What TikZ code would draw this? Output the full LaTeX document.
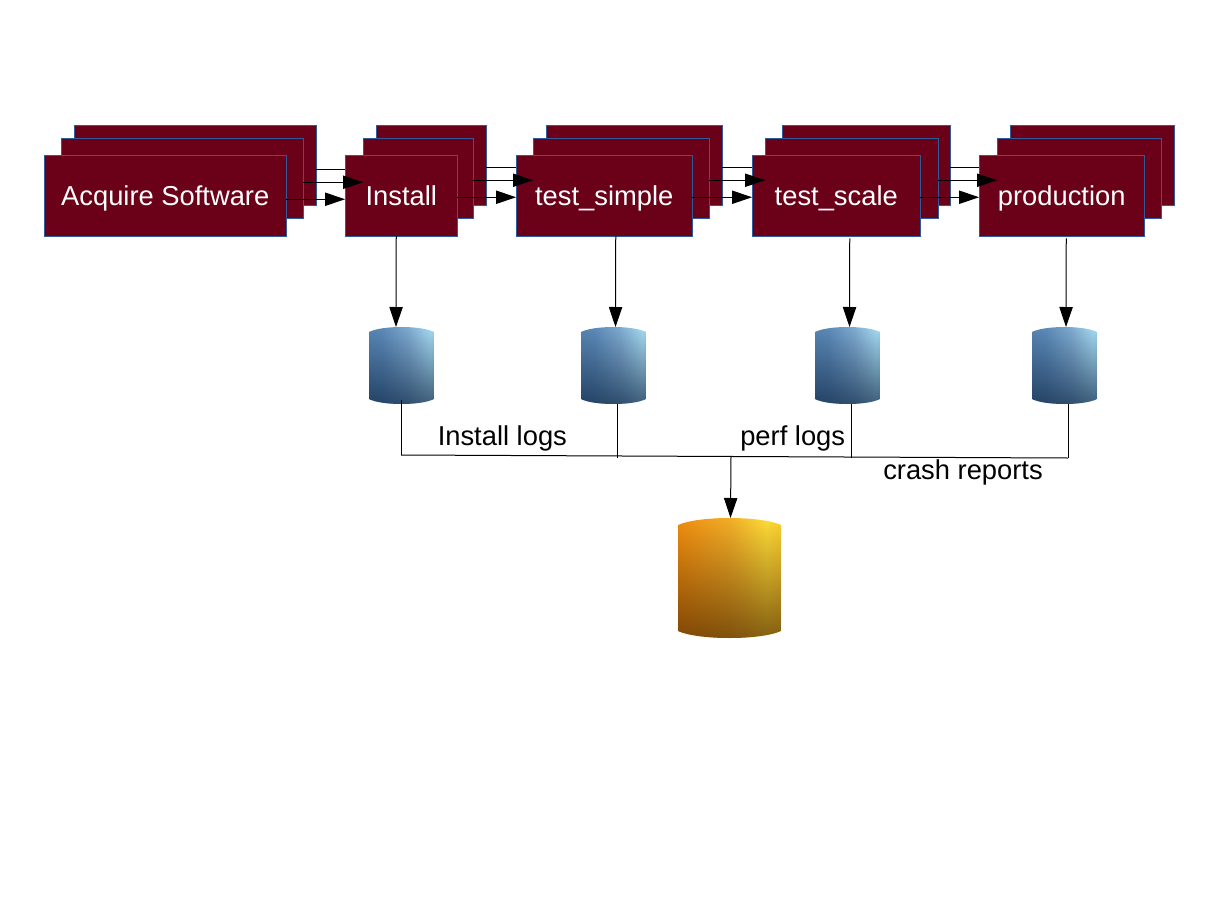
\documentclass[tikz,border=0pt]{standalone}
\usepackage{fontspec}
\setmainfont{Liberation Sans}
\usetikzlibrary{arrows.meta,calc,fadings}
\definecolor{boxfill}{HTML}{6B0019}
\definecolor{boxline}{HTML}{2F5B9B}
\definecolor{ba}{HTML}{4E79A6}
\definecolor{bb}{HTML}{5C8AB8}
\definecolor{bc}{HTML}{7FAAD0}
\definecolor{bd}{HTML}{A6DAF2}
\definecolor{be}{HTML}{8EC4EC}
\definecolor{bf}{HTML}{7CB2EA}
\definecolor{oa}{HTML}{CF8210}
\definecolor{ob}{HTML}{F08E10}
\definecolor{oc}{HTML}{F2AE28}
\definecolor{od}{HTML}{FFDC38}
\definecolor{oe}{HTML}{F8C028}
\definecolor{of}{HTML}{FBA81A}
\definecolor{bluecylshade}{HTML}{0C2340}
\definecolor{orangecylshade}{HTML}{4A2500}
\pgfdeclarehorizontalshading{bluecyl}{100bp}{color(0bp)=(ba);color(35bp)=(bb);color(55bp)=(bc);color(72bp)=(bd);color(85bp)=(be);color(100bp)=(bf)}
\pgfdeclarehorizontalshading{orangecyl}{100bp}{color(0bp)=(oa);color(25bp)=(ob);color(50bp)=(oc);color(68bp)=(od);color(85bp)=(oe);color(100bp)=(of)}
\tikzset{
  px/.style={x=0.75pt,y=-0.75pt},
  stackbox/.style={draw=boxline,fill=boxfill,line width=0.7pt,inner sep=0pt,text=white,text height=18.5pt,text depth=3.5pt,font=\fontsize{20.5pt}{24pt}\selectfont},
  conn/.style={black,line width=0.75pt},
  arr/.style={conn,-{Triangle[length=15pt,width=10pt]}},
  caption label/.style={font=\fontsize{20.5pt}{24pt}\selectfont,text=black,anchor=base west,inner sep=0pt},
  cylnode/.style={inner sep=0pt,outer sep=0pt}
}
\newcommand{\boxat}[6]{% name, x1,y1,x2,y2, text
  \node[stackbox,minimum width={(#4-#2-0.5)*0.75pt},minimum height={(#5-#3-0.5)*0.75pt}] (#1) at ({(#2+#4)/2+0.25},{(#3+#5)/2+0.25}) {#6};}
\newcommand{\cylat}[7]{% name,x1,y1,x2,y2,shading,curve
  \node[cylnode,minimum width={(#4-#2)*0.75pt},minimum height={(#5-#3)*0.75pt}] (#1) at ({(#2+#4)/2},{(#3+#5)/2}) {};
  \begin{scope}
    \clip (#2,{#3+#7}) .. controls ({#2+(#4-#2)*0.2},{#3-#7/3}) and ({#2+(#4-#2)*0.8},{#3-#7/3}) .. (#4,{#3+#7})
       -- (#4,{#5-#7}) .. controls ({#2+(#4-#2)*0.8},{#5+#7/3}) and ({#2+(#4-#2)*0.2},{#5+#7/3}) .. (#2,{#5-#7}) -- cycle;
    \shade[shading=#6] (#2,#3) rectangle (#4,#5);
    \fill[#6shade,fill opacity=0.68,path fading=north] (#2,#3) rectangle (#4,#5);
  \end{scope}}
\begin{document}
\begin{tikzpicture}[px]
\useasboundingbox (0,0) rectangle (1213,910);
\fill[white] (0,0) rectangle (1213,910);
% back boxes
\boxat{aB}{74}{125}{316}{205}{}
\boxat{bB}{376}{125}{486}{205}{}
\boxat{cB}{546}{125}{722}{205}{}
\boxat{dB}{782}{125}{950}{205}{}
\boxat{eB}{1010}{125}{1174}{205}{}
% back connectors
\draw[arr] ($(aB.east)+(0,4.5)$) -- ($(bB.west)+(0,4.5)$);
\draw[arr] ($(bB.east)+(0,2.5)$) -- ($(cB.west)+(0,2.5)$);
\draw[arr] ($(cB.east)+(0,2.5)$) -- ($(dB.west)+(0,2.5)$);
\draw[arr] ($(dB.east)+(0,2.5)$) -- ($(eB.west)+(0,2.5)$);
% middle boxes
\boxat{aM}{61}{138}{303}{218}{}
\boxat{bM}{363}{138}{473}{218}{}
\boxat{cM}{533}{138}{709}{218}{}
\boxat{dM}{765}{138}{938}{218}{}
\boxat{eM}{997}{138}{1161}{218}{}
% front boxes
\boxat{aF}{44}{155}{286}{236}{Acquire Software}
\boxat{bF}{345}{155}{457}{236}{Install}
\boxat{cF}{516}{155}{692}{236}{test\_simple}
\boxat{dF}{752}{155}{920}{236}{test\_scale}
\boxat{eF}{979}{155}{1144}{236}{production}
% middle connectors
\draw[arr] ($(aM.east)+(0,4)$) -- ($(bM.west)+(0,4)$);
\draw[arr] ($(bM.east)+(0,2)$) -- ($(cM.west)+(0,2)$);
\draw[arr] ($(cM.east)+(0,2)$) -- ($(dM.west)+(0,2)$);
\draw[arr] ($(dM.east)+(0,2)$) -- ($(eM.west)+(0,2)$);
% front connectors
\draw[arr] ($(aF.east)+(0,3.5)$) -- ($(bF.west)+(0,3.5)$);
\draw[arr] ($(bF.east)+(0,1.5)$) -- ($(cF.west)+(0,1.5)$);
\draw[arr] ($(cF.east)+(0,1.5)$) -- ($(dF.west)+(0,1.5)$);
\draw[arr] ($(dF.east)+(0,1.5)$) -- ($(eF.west)+(0,1.5)$);
% cylinders
\cylat{l1}{369}{327}{434}{404}{bluecyl}{5}
\cylat{l2}{581}{327}{646}{404}{bluecyl}{5}
\cylat{l3}{815}{327}{880}{404}{bluecyl}{5}
\cylat{l4}{1032}{327}{1097}{404}{bluecyl}{5}
\cylat{store}{678}{518}{781}{638}{orangecyl}{7}
% down arrows
\draw[arr] ($(bF.south)+(-5,0)$) -- ($(l1.north)+(-5.5,0)$);
\draw[arr] ($(cF.south)+(11.5,0)$) -- ($(l2.north)+(2,0)$);
\draw[arr] ($(dF.south)+(13.5,2)$) -- ($(l3.north)+(2,0)$);
\draw[arr] ($(eF.south)+(4.5,2)$) -- ($(l4.north)+(1.5,0)$);
% collector lines
\coordinate (jL) at (401,455);
\coordinate (jR) at (1068,458);
\coordinate (jM) at (731,456.5);
\draw[conn] (jL) -- (jR);
\draw[conn] ($(l1.south)+(-0.5,-4)$) -- (jL);
\draw[conn] ($(l2.south)+(3.5,0)$) -- ($(l2.south)+(3.5,54)$);
\draw[conn] ($(l3.south)+(4,0)$) -- ($(l3.south)+(4,54)$);
\draw[conn] ($(l4.south)+(3.5,0)$) -- (jR);
\draw[arr] (jM) -- ($(store.north)+(1,0)$);
% labels
\node[caption label] (t1) at (437.5,445) {Install logs};
\node[caption label] (t2) at (740,445) {perf logs};
\node[caption label] (t3) at (883,479) {crash reports};
\end{tikzpicture}
\end{document}
